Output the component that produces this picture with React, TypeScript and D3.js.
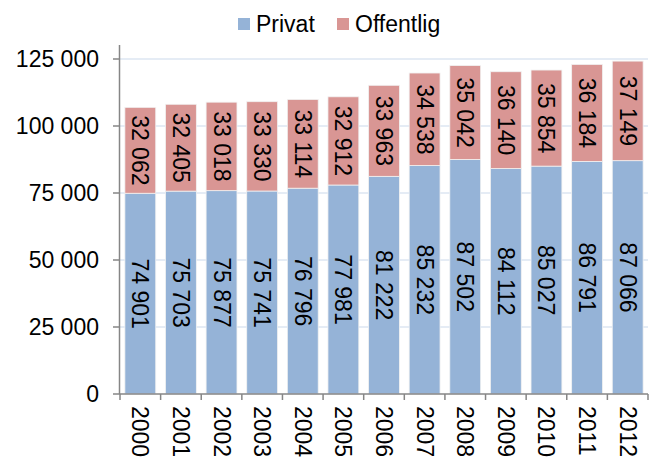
import React from "react";
import * as d3 from "d3";

const years = ["2000","2001","2002","2003","2004","2005","2006","2007","2008","2009","2010","2011","2012"];
const privat = [74901,75703,75877,75741,76796,77981,81222,85232,87502,84112,85027,86791,87066];
const offentlig = [32062,32405,33018,33330,33114,32912,33963,34538,35042,36140,35854,36184,37149];
const yTicks = [0,25000,50000,75000,100000,125000];
const seriesNames = ["Privat","Offentlig"];
const colors = ["#95B3D7","#D99694"];

const W = 655, H = 461;
const FONT = "'Liberation Sans', Arial, sans-serif";
const fmt = (v: number) => {
  const s = String(v);
  return s.replace(/\B(?=(\d{3})+(?!\d))/g, " ");
};

export default function App() {
  const x = d3.scaleBand<string>().domain(years).range([120, 648]).paddingInner(0.24).paddingOuter(0.12);
  const y = d3.scaleLinear().domain([0, 125000]).range([394, 59]);
  const rows = years.map((yr, i) => ({ yr, Privat: privat[i], Offentlig: offentlig[i] }));
  const stack = d3.stack<any>().keys(seriesNames)(rows);
  const step = x.step();
  const axisColor = "#868686";

  return (
    <svg width={W} height={H} style={{ position: "absolute", left: 0, top: 0, fontFamily: FONT }}>
      <rect width={W} height={H} fill="#fff" />
      {/* gridlines */}
      {yTicks.filter(t => t > 0).map(t => (
        <line key={t} x1={120} x2={648} y1={y(t)} y2={y(t)} stroke="#DCE6F2" strokeWidth={1.5} />
      ))}
      {/* bars */}
      {stack.map((s, si) => (
        <g key={si}>
          {s.map((d: any, i: number) => {
            const x0 = x(years[i])!;
            const bw = x.bandwidth();
            const top = y(d[1]);
            const bot = y(d[0]);
            const v = d[1] - d[0];
            const cx = x0 + bw / 2;
            const cy = (top + bot) / 2;
            return (
              <g key={i}>
                <rect x={x0} y={top} width={bw} height={bot - top} fill={colors[si]} stroke="#F2F2F2" strokeWidth={0.8} />
                <text transform={`translate(${cx},${cy}) rotate(90)`} textAnchor="middle" dominantBaseline="central" fontSize={23} fill="#000">{fmt(v)}</text>
              </g>
            );
          })}
        </g>
      ))}
      {/* y axis */}
      <line x1={119.5} x2={119.5} y1={45} y2={394} stroke={axisColor} strokeWidth={1.5} />
      {yTicks.map(t => (
        <g key={t}>
          <line x1={113} x2={120} y1={y(t)} y2={y(t)} stroke={axisColor} strokeWidth={1.5} />
          <text x={99} y={y(t)} textAnchor="end" dominantBaseline="central" fontSize={23} fill="#000">{fmt(t)}</text>
        </g>
      ))}
      {/* x axis */}
      <line x1={120} x2={648} y1={394} y2={394} stroke={axisColor} strokeWidth={1.5} />
      {d3.range(years.length + 1).map(i => {
        const xx = 120 + i * step;
        return <line key={i} x1={xx} x2={xx} y1={394} y2={400} stroke={axisColor} strokeWidth={1.5} />;
      })}
      {years.map(yr => (
        <text key={yr} transform={`translate(${x(yr)! + x.bandwidth() / 2},${406}) rotate(90)`} textAnchor="start" dominantBaseline="central" fontSize={23} fill="#000">{yr}</text>
      ))}
      {/* legend */}
      <rect x={238} y={18} width={12} height={12} fill={colors[0]} />
      <text x={256} y={32} fontSize={23} fill="#000">{seriesNames[0]}</text>
      <rect x={337} y={18} width={12} height={12} fill={colors[1]} />
      <text x={355} y={32} fontSize={23} fill="#000">{seriesNames[1]}</text>
    </svg>
  );
}
